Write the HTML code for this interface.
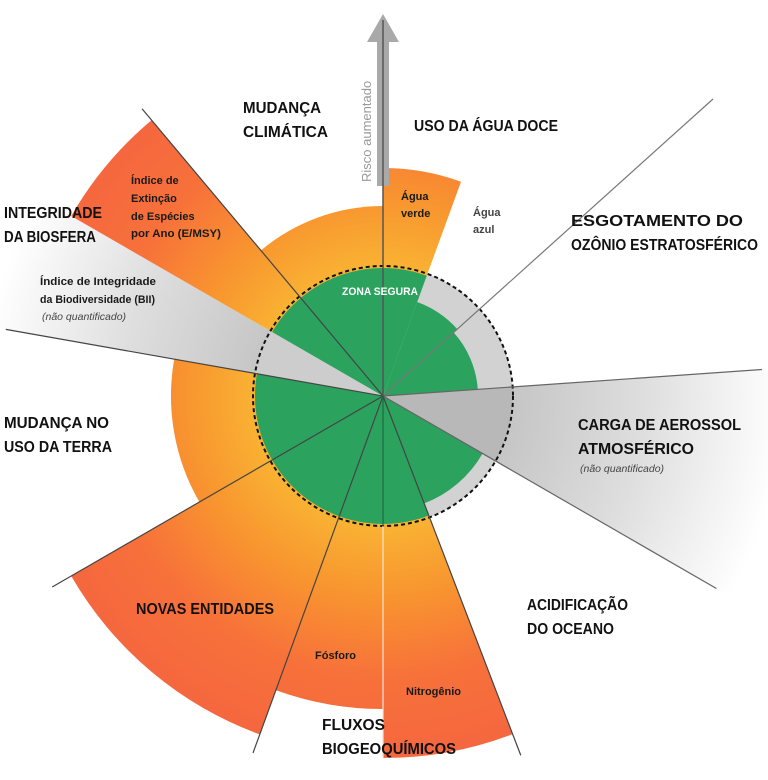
<!DOCTYPE html>
<html><head><meta charset="utf-8"><style>
html,body{margin:0;padding:0;background:#fff;}
svg{display:block;}
text{font-family:"Liberation Sans",sans-serif;}
.h{font-weight:bold;font-size:16px;fill:#111;}
.s{font-weight:bold;font-size:11px;fill:#1a1a1a;}
.i{font-style:italic;font-size:10.5px;fill:#444;}
</style></head><body>
<svg width="768" height="780" viewBox="0 0 768 780" xmlns="http://www.w3.org/2000/svg">
<defs>
<radialGradient id="og" gradientUnits="userSpaceOnUse" cx="383" cy="396" r="360">
<stop offset="0.36" stop-color="#f9b233"/>
<stop offset="0.55" stop-color="#f8952f"/>
<stop offset="0.78" stop-color="#f7713a"/>
<stop offset="1" stop-color="#f5673f"/>
</radialGradient>
<radialGradient id="gg" gradientUnits="userSpaceOnUse" cx="383" cy="396" r="400">
<stop offset="0.3" stop-color="#c4c4c4"/>
<stop offset="0.65" stop-color="#dedede"/>
<stop offset="1" stop-color="#ffffff"/>
</radialGradient>
</defs>
<g transform="translate(1,1)">
<path d="M382,395 L-12,325.5 A400,400 0 0 1 35.6,195 Z" fill="url(#gg)"/>
<path d="M382,395 L781,367 A400,400 0 0 1 728.4,595 Z" fill="url(#gg)"/>
<path d="M382,395 L259.8,249.5 A190,190 0 0 1 382,205 Z" fill="url(#og)"/>
<path d="M382,395 L382,167 A228,228 0 0 1 460,180.7 Z" fill="url(#og)"/>
<path d="M382,395 L70.2,215 A360,360 0 0 1 150.5,119.2 Z" fill="url(#og)"/>
<path d="M382,395 L198.4,501 A212,212 0 0 1 173.2,358.1 Z" fill="url(#og)"/>
<path d="M382,395 L258.9,733.4 A360,360 0 0 1 70.2,575 Z" fill="url(#og)"/>
<path d="M382,395 L382,708 A313,313 0 0 1 275,689.2 Z" fill="url(#og)"/>
<path d="M382,395 L511.6,733.1 A362,362 0 0 1 382,757 Z" fill="url(#og)"/>
<circle cx="382" cy="395" r="128" fill="#2ba35e"/>
<path d="M382,395 L426.5,272.8 A130,130 0 0 1 428.5,516.4 Z" fill="#d2d2d2"/>
<path d="M382,395 L511.7,385.9 A130,130 0 0 1 494.6,460 Z" fill="#b8b8b8"/>
<path d="M382,395 L254,372.4 A130,130 0 0 1 269.4,330 Z" fill="#cdcdcd"/>
<path d="M382,395 L416.2,301 A100,100 0 0 1 456.3,328.1 Z" fill="#2ba35e"/>
<path d="M382,395 L452.6,331.4 A95,95 0 0 1 476.8,388.4 Z" fill="#2ba35e"/>
<path d="M382,395 L481.6,452.5 A115,115 0 0 1 423.2,502.4 Z" fill="#2ba35e"/>
<circle cx="382" cy="395" r="130" fill="none" stroke="#111" stroke-width="2" stroke-dasharray="4 3"/>
<g stroke="#444" stroke-width="1.2" fill="none">
<line x1="382" y1="395" x2="712" y2="98" stroke="#777"/>
<line x1="382" y1="395" x2="761" y2="368.5" stroke="#666"/>
<line x1="382" y1="395" x2="715.4" y2="587.5" stroke="#666"/>
<line x1="382" y1="395" x2="519.8" y2="754.4"/>
<line x1="382" y1="395" x2="252" y2="752"/>
<line x1="382" y1="395" x2="51.2" y2="586"/>
<line x1="382" y1="395" x2="4.8" y2="328.4"/>
<line x1="382" y1="395" x2="141" y2="107.7"/>
</g>
<line x1="382" y1="525" x2="382" y2="757" stroke="#f4e2d0" stroke-width="1.2"/>
<line x1="382" y1="395" x2="382" y2="525" stroke="#1d6b3d" stroke-width="1.2"/>
</g>
<rect x="377" y="40" width="12" height="146" fill="#a9a9a9"/>
<polygon points="383,14 367,42 399,42" fill="#a9a9a9"/>
<line x1="383" y1="20" x2="383" y2="396" stroke="#555" stroke-width="1.5"/>
<text transform="translate(371,182) rotate(-90)" style="font-size:13px;fill:#999;">Risco aumentado</text>
<text class="h" x="243" y="113" textLength="78" lengthAdjust="spacingAndGlyphs">MUDANÇA</text>
<text class="h" x="243" y="137" textLength="85" lengthAdjust="spacingAndGlyphs">CLIMÁTICA</text>
<text class="h" x="414" y="131" textLength="144" lengthAdjust="spacingAndGlyphs">USO DA ÁGUA DOCE</text>
<text class="s" x="401" y="200">Água</text>
<text class="s" x="401" y="217">verde</text>
<text class="s" x="473" y="216" style="fill:#444">Água</text>
<text class="s" x="473" y="233" style="fill:#444">azul</text>
<text class="h" x="571" y="226" textLength="172" lengthAdjust="spacingAndGlyphs">ESGOTAMENTO DO</text>
<text class="h" x="571" y="250" textLength="187" lengthAdjust="spacingAndGlyphs">OZÔNIO ESTRATOSFÉRICO</text>
<text class="h" x="4" y="218" textLength="98" lengthAdjust="spacingAndGlyphs">INTEGRIDADE</text>
<text class="h" x="4" y="242" textLength="92" lengthAdjust="spacingAndGlyphs">DA BIOSFERA</text>
<text class="s" x="131" y="184">Índice de</text>
<text class="s" x="131" y="202">Extinção</text>
<text class="s" x="131" y="220">de Espécies</text>
<text class="s" x="131" y="237" textLength="90" lengthAdjust="spacingAndGlyphs">por Ano (E/MSY)</text>
<text class="s" x="40" y="285" textLength="116" lengthAdjust="spacingAndGlyphs">Índice de Integridade</text>
<text class="s" x="40" y="303" textLength="115" lengthAdjust="spacingAndGlyphs">da Biodiversidade (BII)</text>
<text class="i" x="42" y="320">(não quantificado)</text>
<text class="s" x="342" y="295" style="fill:#fff" textLength="76" lengthAdjust="spacingAndGlyphs">ZONA SEGURA</text>
<text class="h" x="4" y="428" textLength="105" lengthAdjust="spacingAndGlyphs">MUDANÇA NO</text>
<text class="h" x="4" y="452" textLength="108" lengthAdjust="spacingAndGlyphs">USO  DA TERRA</text>
<text class="h" x="578" y="430" textLength="163" lengthAdjust="spacingAndGlyphs">CARGA DE AEROSSOL</text>
<text class="h" x="578" y="454" textLength="116" lengthAdjust="spacingAndGlyphs">ATMOSFÉRICO</text>
<text class="i" x="580" y="472">(não quantificado)</text>
<text class="h" x="136" y="614" textLength="138" lengthAdjust="spacingAndGlyphs">NOVAS ENTIDADES</text>
<text class="h" x="527" y="610" textLength="101" lengthAdjust="spacingAndGlyphs">ACIDIFICAÇÃO</text>
<text class="h" x="527" y="634" textLength="87" lengthAdjust="spacingAndGlyphs">DO OCEANO</text>
<text class="s" x="315" y="659">Fósforo</text>
<text class="s" x="406" y="695">Nitrogênio</text>
<text class="h" x="322" y="730" textLength="63" lengthAdjust="spacingAndGlyphs">FLUXOS</text>
<text class="h" x="322" y="754" textLength="134" lengthAdjust="spacingAndGlyphs">BIOGEOQUÍMICOS</text>
</svg>
</body></html>
